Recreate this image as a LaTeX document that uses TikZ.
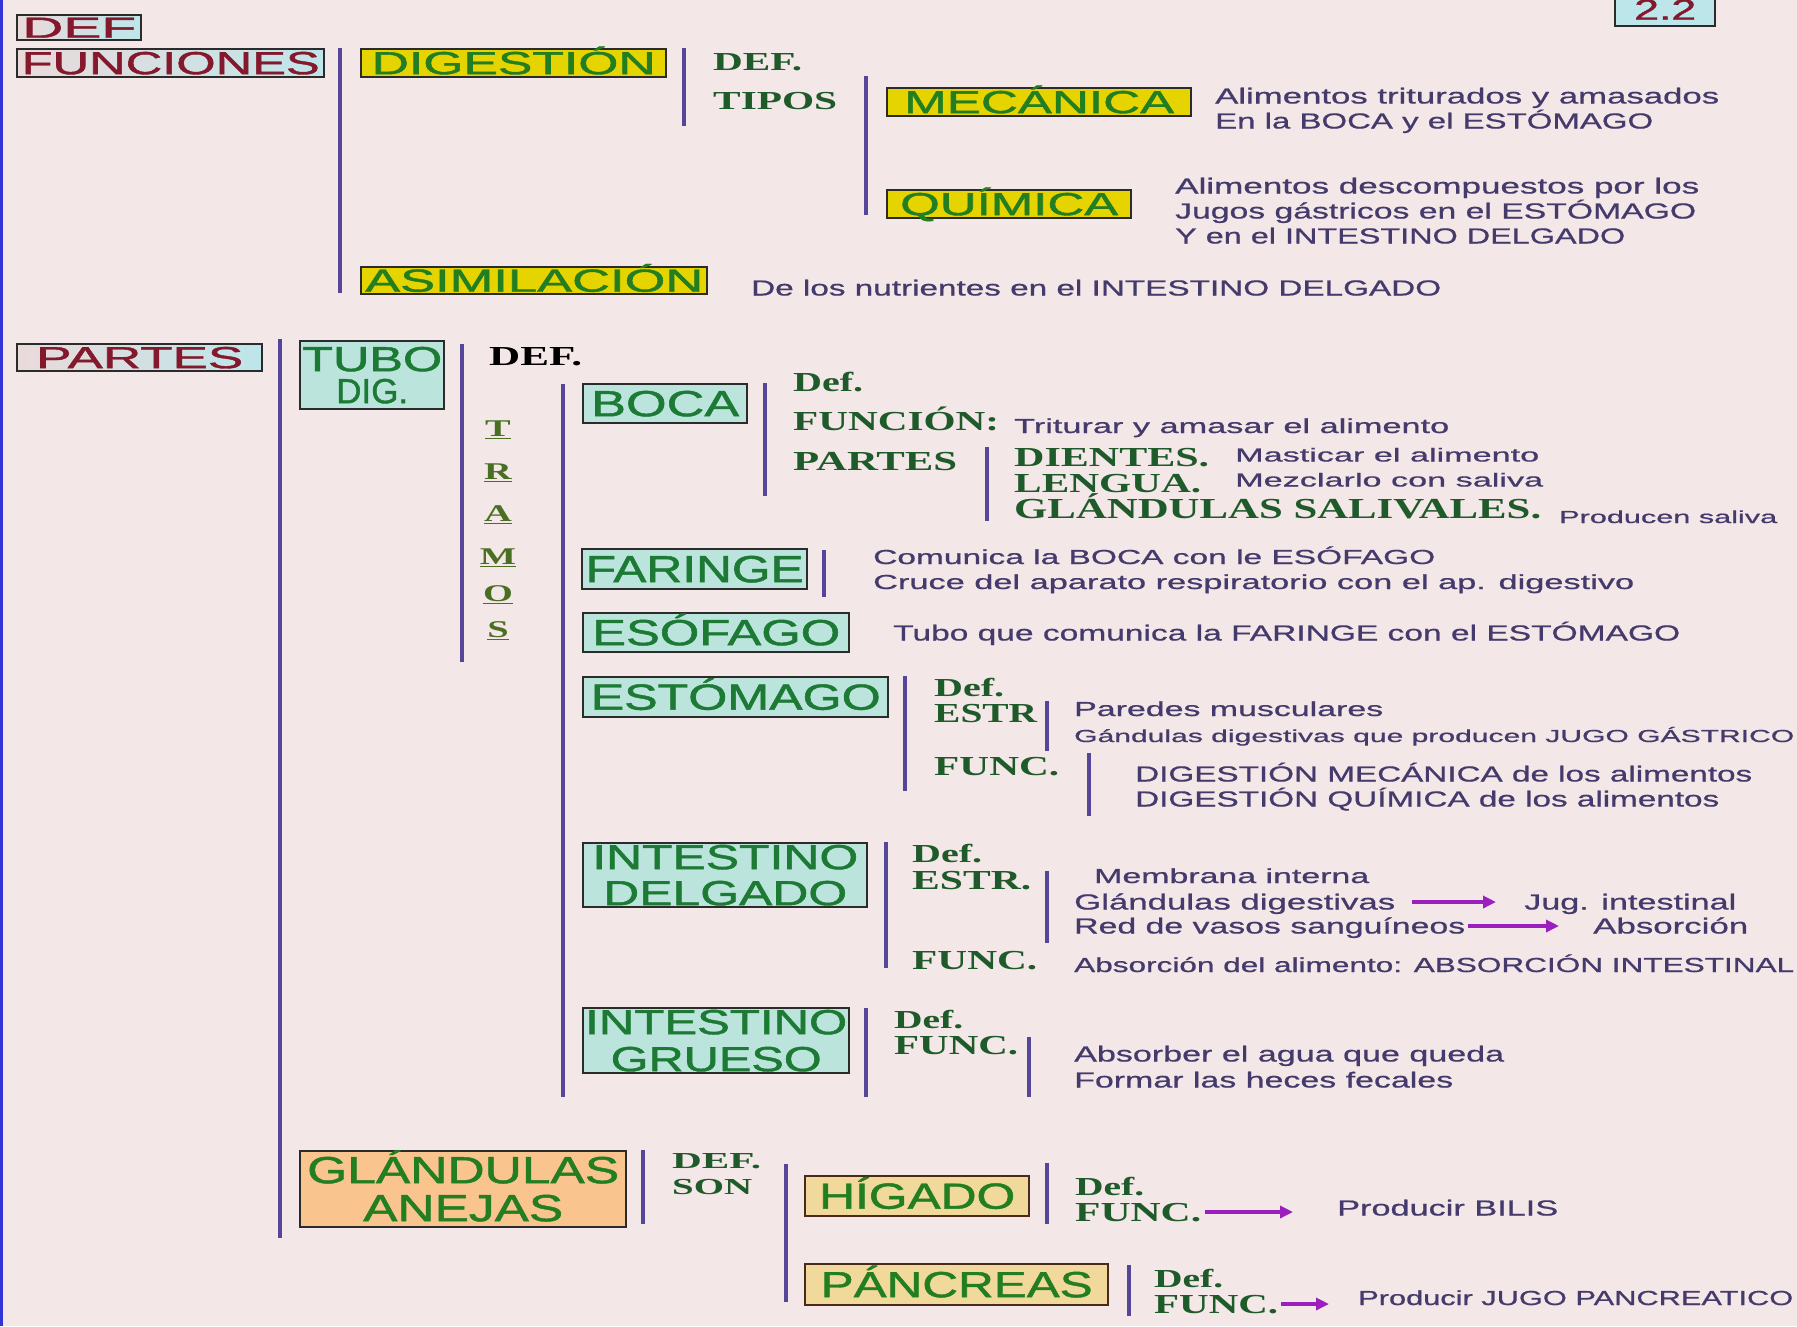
\documentclass[tikz,border=0pt]{standalone}
\usepackage{fontspec}
\setmainfont{Liberation Serif}
\setsansfont{Liberation Sans}
\newfontfamily\boxf[FakeBold=1.2]{Liberation Sans}
\newfontfamily\descf[FakeBold=0.6]{Liberation Sans}
\usepackage{graphicx}
\usetikzlibrary{arrows.meta}
\newcommand\fitbox[3]{\resizebox{#1pt}{#2pt}{\raisebox{0pt}[\fontcharht\font`E][0pt]{#3}}}
\definecolor{bg}{HTML}{F3E7E7}
\definecolor{leftbar}{HTML}{3434D6}
\definecolor{vline}{HTML}{55469A}
\definecolor{bord}{HTML}{2B2B2B}
\definecolor{brownb}{HTML}{4A2A1A}
\definecolor{pinkc}{HTML}{EADADA}
\definecolor{cyanc}{HTML}{BDE6EA}
\definecolor{redt}{HTML}{84182C}
\definecolor{yel}{HTML}{E6D400}
\definecolor{cyanb}{HTML}{BAE4DC}
\definecolor{orng}{HTML}{F9C48E}
\definecolor{khak}{HTML}{F0D99A}
\definecolor{grt}{HTML}{237E22}
\definecolor{grc}{HTML}{1C7A34}
\definecolor{sgreen}{HTML}{1F5A2A}
\definecolor{desc}{HTML}{443A6C}
\definecolor{olivet}{HTML}{4A6E22}
\definecolor{magen}{HTML}{9A1FBE}
\tikzset{
 bx/.style={draw=bord, line width=2.4pt, inner sep=0pt, anchor=north west, font=\boxf\fontsize{30}{34}\selectfont},
 rbx/.style={bx, left color=pinkc, right color=cyanc, text=redt},
 ybx/.style={bx, fill=yel, text=grt},
 cbx/.style={bx, fill=cyanb, text=grc},
 obx/.style={bx, fill=orng, text=grt},
 kbx/.style={bx, fill=khak, draw=brownb, text=grt},
 sl/.style={anchor=west, inner sep=0pt, text=sgreen, font=\fontsize{25}{25}\selectfont\bfseries},
 ds/.style={anchor=west, inner sep=0pt, text=desc, font=\descf\fontsize{20}{20}\selectfont},
 vl/.style={draw=vline, line width=4.5pt},
 arr/.style={draw=magen, line width=3.5pt, -{Triangle[length=13pt,width=12pt]}},
 trm/.style={anchor=center, inner sep=0pt, text=olivet, font=\fontsize{24}{24}\selectfont\bfseries},
}
\begin{document}
\begin{tikzpicture}[x=1pt,y=-1pt]
\path[use as bounding box] (0,0) rectangle (1797,1326);
\clip (0,0) rectangle (1797,1326);
\fill[bg] (0,0) rectangle (1797,1326);
\fill[leftbar] (0,0) rectangle (3,1326);

% ---- FUNCIONES block
\node[rbx, minimum width=124pt, minimum height=25pt] (def) at (16,14) {\fitbox{114}{20}{DEF}};
\node[rbx, minimum width=307pt, minimum height=28pt] (fun) at (16,48) {\fitbox{298}{22}{FUNCIONES}};
\node[bx, fill=cyanc, text=redt, minimum width=100pt, minimum height=33pt] (num) at (1614,-8) {\fitbox{62}{20}{2.2}};
\draw[vl] (340,48) -- (340,293);
\node[ybx, minimum width=305pt, minimum height=28pt] (dig) at (360,48) {\fitbox{284}{22}{DIGESTIÓN}};
\draw[vl] (684,48) -- (684,126);
\node[sl] (ddef) at (713,62) {\fitbox{89}{17}{DEF.}};
\node[sl] (dtip) at (713,101) {\fitbox{124}{17}{TIPOS}};
\draw[vl] (866,76) -- (866,215);
\node[ybx, minimum width=304pt, minimum height=28pt] (mec) at (886,87) {\fitbox{270}{22}{MECÁNICA}};
\node[ds] (m1) at (1215,96) {\fitbox{504}{15}{Alimentos triturados y amasados}};
\node[ds] (m2) at (1215,121) {\fitbox{438}{15}{En la BOCA y el ESTÓMAGO}};
\node[ybx, minimum width=244pt, minimum height=28pt] (qui) at (886,189) {\fitbox{218}{22}{QUÍMICA}};
\node[ds] (q1) at (1175,186) {\fitbox{524}{15}{Alimentos descompuestos por los}};
\node[ds] (q2) at (1175,211) {\fitbox{521}{15}{Jugos gástricos en el ESTÓMAGO}};
\node[ds] (q3) at (1175,236) {\fitbox{450}{15}{Y en el INTESTINO DELGADO}};
\node[ybx, minimum width=346pt, minimum height=27pt] (asi) at (360,266) {\fitbox{338}{22}{ASIMILACIÓN}};
\node[ds] (a1) at (751,288) {\fitbox{690}{15}{De los nutrientes en el INTESTINO DELGADO}};

% ---- PARTES block
\node[rbx, minimum width=245pt, minimum height=27pt] (par) at (16,343) {\fitbox{207}{21}{PARTES}};
\draw[vl] (280,339) -- (280,1238);
\node[cbx, minimum width=144pt, minimum height=68pt, align=center, font=\boxf\fontsize{30}{32}\selectfont] (tubo) at (299,340) {\fitbox{140}{24}{TUBO}\\\fitbox{72}{24}{DIG.}};
\draw[vl] (462,344) -- (462,662);
\node[sl, text=black] (tdef) at (489,356) {\fitbox{93}{18}{DEF.}};
\node[trm] (t1) at (498,430) {\scalebox{1.6}[1]{\underline{T}}};
\node[trm] (t2) at (498,473) {\scalebox{1.6}[1]{\underline{R}}};
\node[trm] (t3) at (498,515) {\scalebox{1.6}[1]{\underline{A}}};
\node[trm] (t4) at (498,558) {\scalebox{1.6}[1]{\underline{M}}};
\node[trm] (t5) at (498,595) {\scalebox{1.6}[1]{\underline{O}}};
\node[trm] (t6) at (498,631) {\scalebox{1.6}[1]{\underline{S}}};
\draw[vl] (563,384) -- (563,1097);

% BOCA
\node[cbx, minimum width=164pt, minimum height=39pt] (boca) at (582,383) {\fitbox{148}{25}{BOCA}};
\draw[vl] (765,383) -- (765,496);
\node[sl] (bdef) at (793,382) {\fitbox{70}{18}{Def.}};
\node[sl] (bfun) at (793,421) {\fitbox{206}{18}{FUNCIÓN:}};
\node[ds] (bf) at (1014,426) {\fitbox{435}{14}{Triturar y amasar el alimento}};
\node[sl] (bpar) at (793,461) {\fitbox{164}{18}{PARTES}};
\draw[vl] (987,447) -- (987,521);
\node[sl] (dien) at (1014,457) {\fitbox{195}{18}{DIENTES.}};
\node[ds] (d1) at (1235,455) {\fitbox{304}{13}{Masticar el alimento}};
\node[sl] (leng) at (1014,483) {\fitbox{187}{18}{LENGUA.}};
\node[ds] (d2) at (1235,480) {\fitbox{308}{13}{Mezclarlo con saliva}};
\node[sl] (glsal) at (1014,509) {\fitbox{527}{19}{GLÁNDULAS SALIVALES.}};
\node[ds] (d3) at (1559,517) {\fitbox{218}{12}{Producen saliva}};

% FARINGE
\node[cbx, minimum width=225pt, minimum height=40pt] (far) at (581,548) {\fitbox{218}{26}{FARINGE}};
\draw[vl] (824,550) -- (824,597);
\node[ds] (f1) at (873,557) {\fitbox{562}{14}{Comunica la BOCA con le ESÓFAGO}};
\node[ds] (f2) at (873,582) {\fitbox{761}{14}{Cruce del aparato respiratorio con el ap. digestivo}};

% ESOFAGO
\node[cbx, minimum width=266pt, minimum height=39pt] (eso) at (582,612) {\fitbox{248}{25}{ESÓFAGO}};
\node[ds] (e1) at (893,633) {\fitbox{787}{15}{Tubo que comunica la FARINGE con el ESTÓMAGO}};

% ESTOMAGO
\node[cbx, minimum width=305pt, minimum height=40pt] (est) at (582,676) {\fitbox{290}{25}{ESTÓMAGO}};
\draw[vl] (905,676) -- (905,791);
\node[sl] (edef) at (934,688) {\fitbox{70}{17}{Def.}};
\node[sl] (eestr) at (934,713) {\fitbox{103}{18}{ESTR}};
\draw[vl] (1047,701) -- (1047,751);
\node[ds] (s1) at (1074,709) {\fitbox{309}{14}{Paredes musculares}};
\node[ds] (s2) at (1074,736) {\fitbox{720}{12}{Gándulas digestivas que producen JUGO GÁSTRICO}};
\node[sl] (efun) at (934,766) {\fitbox{125}{18}{FUNC.}};
\draw[vl] (1089,753) -- (1089,816);
\node[ds] (s3) at (1135,774) {\fitbox{617}{15}{DIGESTIÓN MECÁNICA de los alimentos}};
\node[ds] (s4) at (1135,799) {\fitbox{584}{15}{DIGESTIÓN QUÍMICA de los alimentos}};

% INTESTINO DELGADO
\node[cbx, minimum width=284pt, minimum height=64pt, align=center, font=\boxf\fontsize{30}{36}\selectfont] (idel) at (582,842) {\fitbox{266}{24}{INTESTINO}\\\fitbox{244}{24}{DELGADO}};
\draw[vl] (886,842) -- (886,968);
\node[sl] (idef) at (912,854) {\fitbox{70}{17}{Def.}};
\node[sl] (iestr) at (912,880) {\fitbox{119}{18}{ESTR.}};
\draw[vl] (1047,871) -- (1047,943);
\node[ds] (i1) at (1094,876) {\fitbox{275}{14}{Membrana interna}};
\node[ds] (i2) at (1074,902) {\fitbox{321}{15}{Glándulas digestivas}};
\node[ds] (i3) at (1524,902) {\fitbox{212}{15}{Jug. intestinal}};
\node[ds] (i4) at (1074,926) {\fitbox{391}{15}{Red de vasos sanguíneos}};
\node[ds] (i5) at (1593,926) {\fitbox{155}{15}{Absorción}};
\node[sl] (ifun) at (912,960) {\fitbox{125}{18}{FUNC.}};
\node[ds] (i6) at (1074,965) {\fitbox{720}{14}{Absorción del alimento: ABSORCIÓN INTESTINAL}};
\draw[arr, shorten <=17pt, shorten >=28pt] (i2.east) -- (i2.east -| i3.west);
\draw[arr, shorten <=3pt, shorten >=34pt] (i4.east) -- (i4.east -| i5.west);

% INTESTINO GRUESO
\node[cbx, minimum width=266pt, minimum height=65pt, align=center, font=\boxf\fontsize{30}{37}\selectfont] (igru) at (582,1007) {\fitbox{262}{24}{INTESTINO}\\\fitbox{211}{24}{GRUESO}};
\draw[vl] (866,1008) -- (866,1097);
\node[sl] (gdef) at (894,1020) {\fitbox{69}{17}{Def.}};
\node[sl] (gfun) at (894,1045) {\fitbox{124}{18}{FUNC.}};
\draw[vl] (1029,1037) -- (1029,1097);
\node[ds] (g1) at (1074,1054) {\fitbox{430}{15}{Absorber el agua que queda}};
\node[ds] (g2) at (1074,1080) {\fitbox{379}{15}{Formar las heces fecales}};

% GLANDULAS ANEJAS
\node[obx, minimum width=326pt, minimum height=76pt, align=center, font=\boxf\fontsize{32}{38}\selectfont] (glan) at (299,1150) {\fitbox{312}{26}{GLÁNDULAS}\\\fitbox{200}{26}{ANEJAS}};
\draw[vl] (643,1150) -- (643,1224);
\node[sl] (adef) at (672,1161) {\fitbox{89}{15}{DEF.}};
\node[sl] (ason) at (672,1187) {\fitbox{80}{15}{SON}};
\draw[vl] (786,1164) -- (786,1302);
\node[kbx, minimum width=224pt, minimum height=40pt] (hig) at (804,1175) {\fitbox{196}{25}{HÍGADO}};
\draw[vl] (1047,1163) -- (1047,1224);
\node[sl] (hdef) at (1075,1187) {\fitbox{69}{17}{Def.}};
\node[sl] (hfun) at (1075,1212) {\fitbox{126}{18}{FUNC.}};
\node[ds] (h1) at (1337,1208) {\fitbox{221}{15}{Producir BILIS}};
\draw[arr, shorten <=4pt, shorten >=44pt] (hfun.east) -- (hfun.east -| h1.west);
\node[kbx, minimum width=303pt, minimum height=41pt] (pan) at (804,1263) {\fitbox{272}{25}{PÁNCREAS}};
\draw[vl] (1129,1265) -- (1129,1316);
\node[sl] (pdef) at (1154,1279) {\fitbox{69}{17}{Def.}};
\node[sl] (pfun) at (1154,1304) {\fitbox{124}{18}{FUNC.}};
\node[ds] (p1) at (1358,1298) {\fitbox{435}{14}{Producir JUGO PANCREATICO}};
\draw[arr, shorten <=3pt, shorten >=29pt] (pfun.east) -- (pfun.east -| p1.west);
\end{tikzpicture}
\end{document}
